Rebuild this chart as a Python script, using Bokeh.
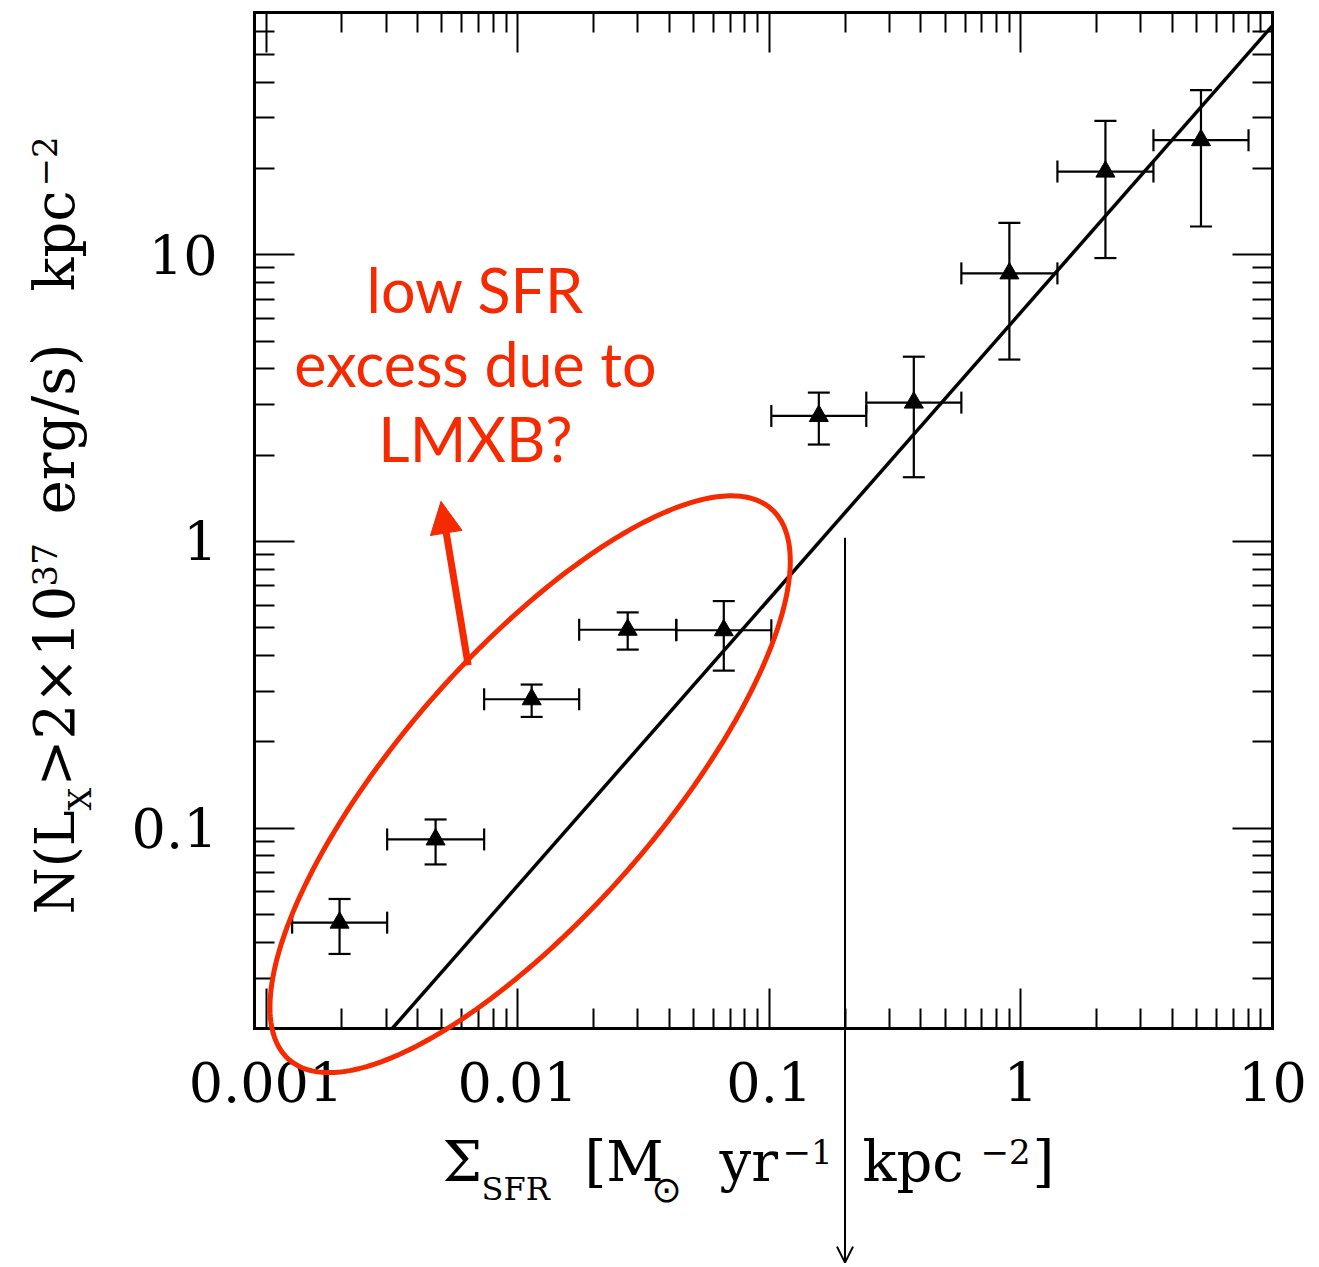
import numpy as np
from bokeh.plotting import figure
from bokeh.models import (LogAxis, FixedTicker, CustomJSTickFormatter, Whisker, TeeHead,
                          ColumnDataSource, Arrow, NormalHead, OpenHead, Label,
                          PolyAnnotation, Range1d)
from bokeh.embed import file_html
from bokeh.resources import INLINE

# --- binned surface densities: SFR bins and source counts ---
sfr = [0.00196, 0.00472, 0.01137, 0.02738, 0.06596, 0.1574, 0.3754, 0.9001, 2.168, 5.197]
sfr_lo = [0.00127, 0.00303, 0.00736, 0.01756, 0.0427, 0.1019, 0.2430, 0.580, 1.397, 3.364]
sfr_hi = [0.00303, 0.00736, 0.01756, 0.0427, 0.1019, 0.2430, 0.580, 1.397, 3.364, 8.03]
n_x = [0.0468, 0.0913, 0.2815, 0.492, 0.490, 2.74, 3.05, 8.61, 19.5, 25.1]
n_lo = [0.0364, 0.0747, 0.2443, 0.4195, 0.3543, 2.178, 1.675, 4.31, 9.74, 12.55]
n_hi = [0.0566, 0.1072, 0.3168, 0.5656, 0.6194, 3.305, 4.41, 12.93, 29.3, 37.5]

# linear relation N = k * Sigma_SFR
fit_norm = 6.3

# visible axis box (data limits) and its place on the canvas
X_MIN, X_MAX = 0.0009, 10.0
Y_MIN, Y_MAX = 0.02, 70.0
W, H = 1319, 1267
BOX_L, BOX_R, BOX_T, BOX_B = 254, 1272, 12, 1028

# axis ticks
x_major = [0.001, 0.01, 0.1, 1, 10]
y_major = [0.1, 1, 10]
x_minor = [v for v in (k * 10.0 ** d for d in range(-4, 1) for k in range(2, 10))
           if X_MIN < v < X_MAX]
y_minor = [v for v in (k * 10.0 ** d for d in range(-2, 2) for k in range(2, 10))
           if Y_MIN < v < Y_MAX]

RED = "#f52a00"
SERIF = "DejaVu Serif"

# the drawing area spans the whole canvas, so annotations may leave the box
dec_per_px_x = (np.log10(X_MAX) - np.log10(X_MIN)) / (BOX_R - BOX_L)
dec_per_px_y = (np.log10(Y_MAX) - np.log10(Y_MIN)) / (BOX_B - BOX_T)
x_start = 10 ** (np.log10(X_MIN) - BOX_L * dec_per_px_x)
x_end = 10 ** (np.log10(X_MAX) + (W - BOX_R) * dec_per_px_x)
y_start = 10 ** (np.log10(Y_MIN) - (H - BOX_B) * dec_per_px_y)
y_end = 10 ** (np.log10(Y_MAX) + BOX_T * dec_per_px_y)

p = figure(width=W, height=H, x_axis_type="log", y_axis_type="log",
           x_range=Range1d(x_start, x_end), y_range=Range1d(y_start, y_end),
           output_backend="svg", toolbar_location=None,
           min_border_left=0, min_border_right=0, min_border_top=0, min_border_bottom=0)
p.xgrid.visible = False
p.ygrid.visible = False
p.outline_line_color = None
p.background_fill_color = "white"
p.border_fill_color = "white"


def style_axis(ax, major, minor, labelled, standoff, loc, bounds):
    ax.fixed_location = loc
    ax.bounds = bounds
    ax.ticker = FixedTicker(ticks=major, minor_ticks=minor)
    ax.axis_line_width = 3
    ax.axis_line_color = "black"
    ax.axis_line_cap = "square"
    ax.major_tick_in = 40
    ax.major_tick_out = 0
    ax.minor_tick_in = 20
    ax.minor_tick_out = 0
    ax.major_tick_line_width = 2
    ax.minor_tick_line_width = 2
    ax.major_tick_line_color = "black"
    ax.minor_tick_line_color = "black"
    ax.axis_label = None
    if labelled:
        ax.formatter = CustomJSTickFormatter(code="return tick.toString();")
        ax.major_label_text_font = SERIF
        ax.major_label_text_font_size = "54px"
        ax.major_label_text_color = "black"
        ax.major_label_standoff = standoff
    else:
        ax.formatter = CustomJSTickFormatter(code="return '';")
        ax.major_label_standoff = 0


style_axis(p.xaxis[0], x_major, x_minor, True, 33, Y_MIN, (X_MIN, X_MAX))
style_axis(p.yaxis[0], y_major, y_minor, True, 37, X_MIN, (Y_MIN, Y_MAX))
top_ax = LogAxis()
right_ax = LogAxis()
style_axis(top_ax, x_major, x_minor, False, 0, Y_MAX, (X_MIN, X_MAX))
style_axis(right_ax, y_major, y_minor, False, 0, X_MAX, (Y_MIN, Y_MAX))
p.add_layout(top_ax, "above")
p.add_layout(right_ax, "right")

# linear relation, drawn across the box from the bottom edge to the right edge
fit_x = [Y_MIN / fit_norm, X_MAX]
fit_y = [fit_norm * v for v in fit_x]
p.line(fit_x, fit_y, line_color="black", line_width=3.5)

# data with error bars
src = ColumnDataSource(dict(x=sfr, xlo=sfr_lo, xhi=sfr_hi, y=n_x, ylo=n_lo, yhi=n_hi))
for dim, base, lo, hi in (("height", "x", "ylo", "yhi"), ("width", "y", "xlo", "xhi")):
    p.add_layout(Whisker(source=src, base=base, lower=lo, upper=hi, dimension=dim,
                         line_color="black", line_width=2.2,
                         upper_head=TeeHead(size=22, line_width=2.2, line_color="black"),
                         lower_head=TeeHead(size=22, line_width=2.2, line_color="black")))
p.scatter("x", "y", source=src, marker="triangle", size=19, color="black")

# red ellipse around the low-SFR bins (axes given in screen pixels)
ell_cx, ell_cy = 0.01121, 0.1423
ell_a, ell_b, ell_ang = 366.0, 130.0, np.radians(48.8)
t = np.linspace(0, 2 * np.pi, 361)
du = ell_a * np.cos(t) * np.cos(ell_ang) - ell_b * np.sin(t) * np.sin(ell_ang)
dv = ell_a * np.cos(t) * np.sin(ell_ang) + ell_b * np.sin(t) * np.cos(ell_ang)
ell_xs = list(10 ** (np.log10(ell_cx) + du * dec_per_px_x))
ell_ys = list(10 ** (np.log10(ell_cy) + dv * dec_per_px_y))
p.add_layout(PolyAnnotation(xs=ell_xs, ys=ell_ys, fill_alpha=0,
                            line_color=RED, line_alpha=1.0, line_width=5))

# red arrow pointing to the note
p.add_layout(Arrow(x_start=0.00636, y_start=0.370, x_end=0.00496, y_end=1.38,
                   line_color=RED, line_width=7,
                   end=NormalHead(size=32, fill_color=RED, line_color=RED, line_width=1)))

# vertical arrow marking Sigma_SFR = 0.2
p.add_layout(Arrow(x_start=0.2, y_start=1.03, x_end=0.2, y_end=0.00305,
                   line_color="black", line_width=2,
                   end=OpenHead(size=16, line_color="black", line_width=2)))

# note text
for txt, yy in (("low SFR", 289), ("excess due to", 363), ("LMXB?", 438)):
    p.add_layout(Label(x=475, y=yy, x_units="canvas", y_units="canvas", text=txt,
                       text_font="Lato", text_font_size="61px", text_color=RED,
                       text_align="center", text_baseline="alphabetic"))

BASE_SHIFT = 0.39  # alphabetic anchor sits this many em above the rendered baseline


def piece(txt, x, y, size, rotated=False, font=SERIF):
    """Place a title fragment so that its baseline lands at (x, y) on the canvas."""
    shift = BASE_SHIFT * size
    if rotated:
        ax, ay, ang = x - shift, y, np.pi / 2
    else:
        ax, ay, ang = x, y - shift, 0.0
    p.add_layout(Label(x=ax, y=ay, x_units="canvas", y_units="canvas", text=txt,
                       text_font=font, text_font_size=f"{size}px", text_color="black",
                       text_align="left", text_baseline="alphabetic", angle=ang))


# x-axis title
piece("Σ", 442, 1183, 56)
piece("SFR", 481, 1201, 32)
piece("[M", 584, 1183, 56)
piece("⊙", 651, 1203, 36, font="DejaVu Sans")
piece("yr", 719, 1183, 56)
piece("−1", 782, 1164, 34)
piece("kpc", 862, 1183, 56)
piece("−2", 980, 1164, 34)
piece("]", 1032, 1183, 56)

# y-axis title (rotated, reading upwards)
piece("N(L", 76, 914, 54, True)
piece("X", 92, 810, 32, True)
piece(">2×10", 76, 786, 56, True)
piece("37", 57, 586, 34, True)
piece("erg/s)", 76, 514, 58, True)
piece("kpc", 76, 291, 56, True)
piece("−2", 57, 186, 34, True)

open("out.html", "w").write(file_html(p, INLINE))
